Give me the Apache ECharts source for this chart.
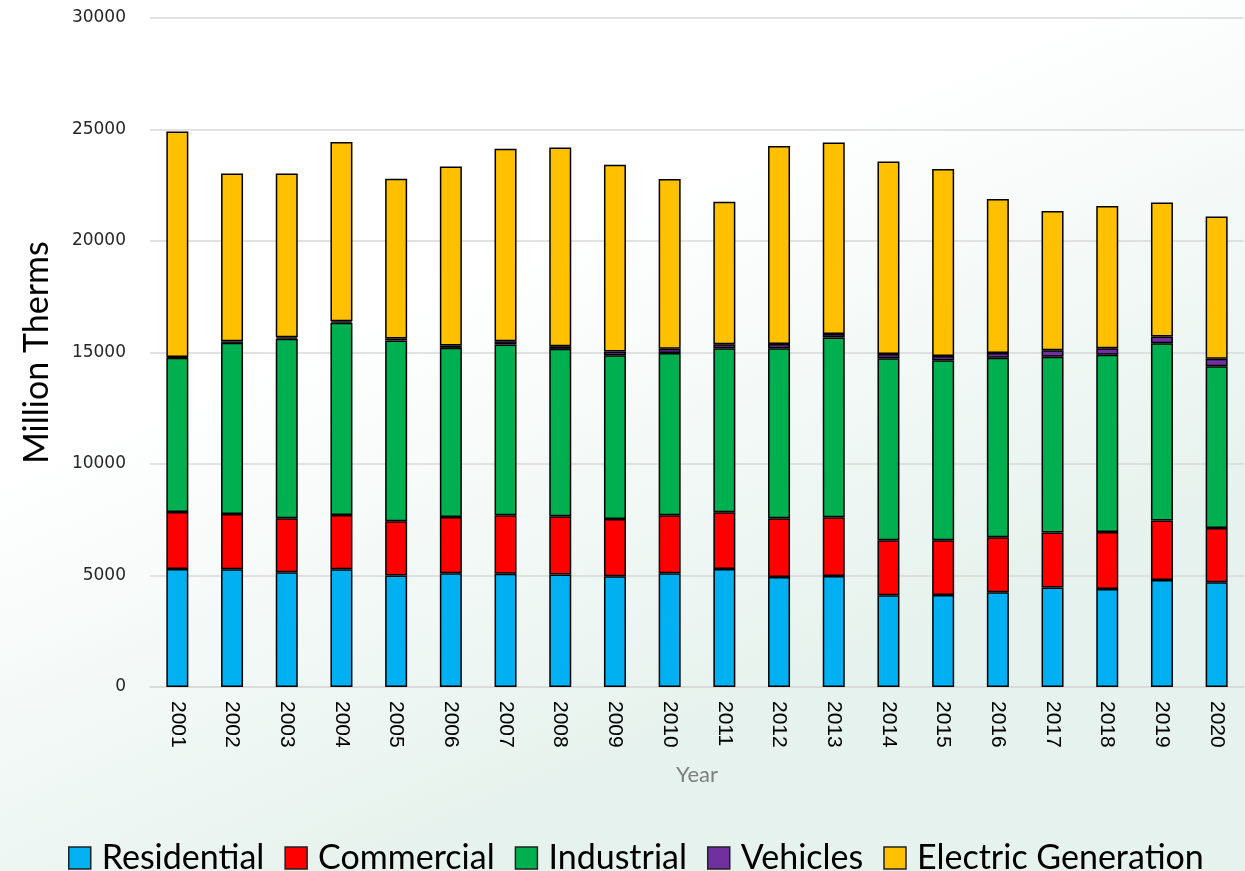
<!DOCTYPE html>
<html>
<head>
<meta charset="utf-8">
<script src="https://cdn.jsdelivr.net/npm/echarts@6/dist/echarts.min.js"></script>
<style>
html,body{margin:0;padding:0;background:#fff;}
#chart{width:1245px;height:871px;}
</style>
</head>
<body>
<div id="chart"></div>
<script>
const years = ['2001','2002','2003','2004','2005','2006','2007','2008','2009','2010','2011','2012','2013','2014','2015','2016','2017','2018','2019','2020'];
const residential = [5293,5280,5145,5280,4997,5101,5078,5042,4966,5101,5293,4935,4979,4114,4127,4248,4459,4396,4800,4697];
const commercial  = [2558,2481,2423,2436,2436,2525,2624,2616,2570,2601,2544,2633,2634,2467,2454,2468,2467,2557,2665,2436];
const industrial  = [6917,7671,8052,8622,8107,7582,7658,7505,7344,7281,7357,7626,8061,8164,8075,8043,7878,7941,7953,7254];
const vehicles    = [30,70,60,60,90,110,150,120,165,180,180,190,160,190,190,220,300,300,300,330];
const electric    = [10117,7529,7351,8037,7159,8027,8625,8914,8372,7612,6383,8872,8588,8634,8378,6899,6236,6370,6012,6385];
const yTicks = [0,5000,10000,15000,20000,25000,30000];

const names = ['Residential','Commercial','Industrial','Vehicles','Electric Generation'];
const colors = ['#00B0F0','#FF0000','#00B050','#7030A0','#FFC000'];
const dataSets = [residential, commercial, industrial, vehicles, electric];

const narrow = "Lato, sans-serif";

const chart = echarts.init(document.getElementById('chart'), null, {renderer:'canvas'});
chart.setOption({
  animation:false,
  backgroundColor:{
    type:'linear', x:0, y:0, x2:0.3, y2:1,
    colorStops:[{offset:0,color:'#ffffff'},{offset:0.45,color:'#ffffff'},{offset:1,color:'#e6f2ed'}]
  },
  grid:{left:150, right:1, top:18, bottom:184},
  legend:{
    top:836, left:63,
    icon:'rect',
    itemWidth:22, itemHeight:22, itemGap:20,
    textStyle:{fontFamily:narrow, fontSize:34, color:'#000', fontWeight:'normal', padding:[0,0,0,6]},
    itemStyle:{borderColor:'#222', borderWidth:1.5},
    data:names
  },
  xAxis:{
    type:'category', data:years,
    name:'Year', nameLocation:'middle', nameGap:77,
    nameTextStyle:{fontFamily:narrow, fontSize:22, color:'#7f7f7f', fontWeight:'normal'},
    axisLine:{lineStyle:{color:'#d9d9d9', width:1.5}},
    axisTick:{show:false},
    axisLabel:{rotate:-90, margin:14, fontFamily:"'Liberation Sans', Arial, sans-serif", fontSize:21, color:'#000'}
  },
  yAxis:{
    type:'value', min:0, max:30000, interval:5000,
    name:'Million Therms', nameLocation:'middle', nameGap:96,
    nameTextStyle:{fontFamily:narrow, fontSize:34, color:'#000', fontWeight:'normal'},
    axisLine:{show:false}, axisTick:{show:false},
    splitLine:{lineStyle:{color:'#d9d9d9', width:1.5}},
    axisLabel:{margin:24, fontFamily:"'DejaVu Sans',Verdana,sans-serif", fontSize:17, color:'#262626',
      customValues: yTicks, formatter: v => String(v)}
  },
  series: names.map((n,i)=>({
    name:n, type:'bar', stack:'total', barWidth:22,
    data:dataSets[i],
    itemStyle:{color:colors[i], borderColor:'#000', borderWidth:1.5}
  }))
});
</script>
</body>
</html>
